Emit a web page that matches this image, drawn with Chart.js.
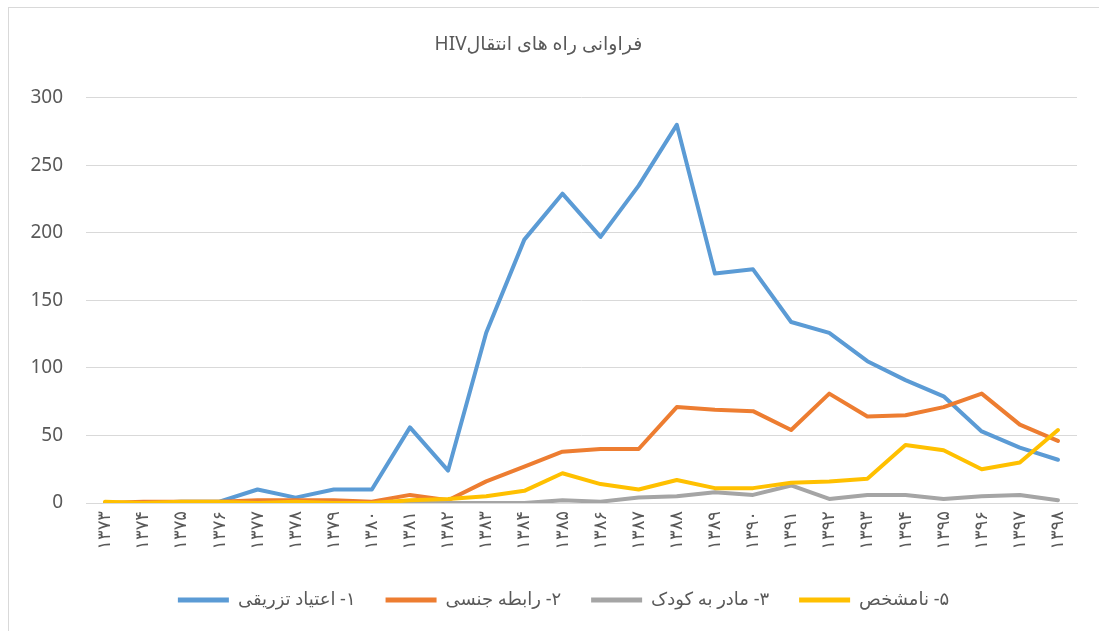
<!DOCTYPE html>
<html>
<head>
<meta charset="utf-8">
<script src="https://cdn.jsdelivr.net/npm/chart.js"></script>
<style>
	body { margin: 0; background: #fff; }
	#wrap { position: relative; width: 1099px; height: 631px; }
	#frame { position: absolute; left: 8px; top: 7px; right: -2px; bottom: -2px; border-left: 1px solid #d9d9d9; border-top: 1px solid #d9d9d9; }
	canvas { position: absolute; left: 0; top: 0; }
</style>
</head>
<body>
<div id="wrap">
	<div id="frame"></div>
	<canvas id="hivChart" width="1099" height="631" dir="rtl"></canvas>
</div>

<script>
	// --- Data ---
	var years = ['۱۳۷۳', '۱۳۷۴', '۱۳۷۵', '۱۳۷۶', '۱۳۷۷', '۱۳۷۸', '۱۳۷۹', '۱۳۸۰', '۱۳۸۱', '۱۳۸۲', '۱۳۸۳', '۱۳۸۴', '۱۳۸۵',
		'۱۳۸۶', '۱۳۸۷', '۱۳۸۸', '۱۳۸۹', '۱۳۹۰', '۱۳۹۱', '۱۳۹۲', '۱۳۹۳', '۱۳۹۴', '۱۳۹۵', '۱۳۹۶', '۱۳۹۷', '۱۳۹۸'];

	var injecting = [0, 0, 1, 1, 10, 4, 10, 10, 56, 24, 126, 195, 229, 197, 235, 280, 170, 173, 134, 126, 105, 91, 79, 53, 41, 32];
	var sexual = [0, 1, 1, 1, 2, 2, 2, 1, 6, 2, 16, 27, 38, 40, 40, 71, 69, 68, 54, 81, 64, 65, 71, 81, 58, 46];
	var motherChild = [0, 0, 0, 0, 0, 0, 0, 0, 0, 0, 0, 0, 2, 1, 4, 5, 8, 6, 13, 3, 6, 6, 3, 5, 6, 2];
	var unknown = [1, 0, 1, 1, 0, 1, 0, 0, 2, 3, 5, 9, 22, 14, 10, 17, 11, 11, 15, 16, 18, 43, 39, 25, 30, 54];

	var seriesNames = ['۱- اعتیاد تزریقی', '۲- رابطه جنسی', '۳- مادر به کودک', '۵- نامشخص'];
	var yTicks = [0, 50, 100, 150, 200, 250, 300];

	var textColor = '#595959';
	var fontFamily = "'Noto Sans', 'DejaVu Sans', sans-serif";

	function lineSet(label, data, color, order) {
		return {
			label: label,
			data: data,
			borderColor: color,
			backgroundColor: color,
			borderWidth: 4,
			borderCapStyle: 'round',
			borderJoinStyle: 'round',
			pointRadius: 0,
			pointHoverRadius: 0,
			pointStyle: 'line',
			tension: 0,
			order: order
		};
	}

	// nudge the legend row to the right so it sits where the original one does
	var legendShift = {
		id: 'legendShift',
		afterLayout: function (chart) {
			if (chart.legend) {
				chart.legend.left += 50;
			}
		}
	};

	var ctx = document.getElementById('hivChart').getContext('2d');
	new Chart(ctx, {
		type: 'line',
		data: {
			labels: years,
			datasets: [
				lineSet(seriesNames[0], injecting, '#5B9BD5', 3),
				lineSet(seriesNames[1], sexual, '#ED7D31', 2),
				lineSet(seriesNames[2], motherChild, '#A5A5A5', 1),
				lineSet(seriesNames[3], unknown, '#FFC000', 0)
			]
		},
		plugins: [legendShift],
		options: {
			responsive: false,
			animation: false,
			layout: {
				padding: { top: 10, right: 22, bottom: 12, left: 0 }
			},
			scales: {
				x: {
					offset: true,
					grid: { display: false, drawTicks: false },
					border: { display: true, color: '#d9d9d9', width: 1 },
					ticks: {
						color: textColor,
						font: { family: fontFamily, size: 18 },
						minRotation: 90,
						maxRotation: 90,
						autoSkip: false,
						padding: 8
					},
					afterFit: function (scale) {
						scale.height = 58;
					}
				},
				y: {
					min: 0,
					max: 300,
					border: { display: false },
					grid: { color: '#d9d9d9', lineWidth: 1, drawTicks: false },
					afterBuildTicks: function (scale) {
						scale.ticks = yTicks.map(function (v) { return { value: v }; });
					},
					ticks: {
						color: textColor,
						font: { family: fontFamily, size: 19 },
						padding: 23
					},
					afterFit: function (scale) {
						scale.width = 86;
					}
				}
			},
			plugins: {
				title: {
					display: true,
					text: 'فراوانی راه های انتقالHIV',
					color: textColor,
					font: { family: fontFamily, size: 19, weight: 'normal' },
					padding: { top: 23, bottom: 42 }
				},
				legend: {
					position: 'bottom',
					textDirection: 'rtl',
					labels: {
						color: textColor,
						font: { family: fontFamily, size: 18 },
						usePointStyle: true,
						pointStyleWidth: 51,
						padding: 30,
						sort: function (a, b) { return a.datasetIndex - b.datasetIndex; },
						generateLabels: function (chart) {
							var items = Chart.defaults.plugins.legend.labels.generateLabels(chart);
							items.forEach(function (item) { item.lineWidth = 5; });
							return items;
						}
					}
				},
				tooltip: { enabled: false }
			}
		}
	});
</script>
</body>
</html>
